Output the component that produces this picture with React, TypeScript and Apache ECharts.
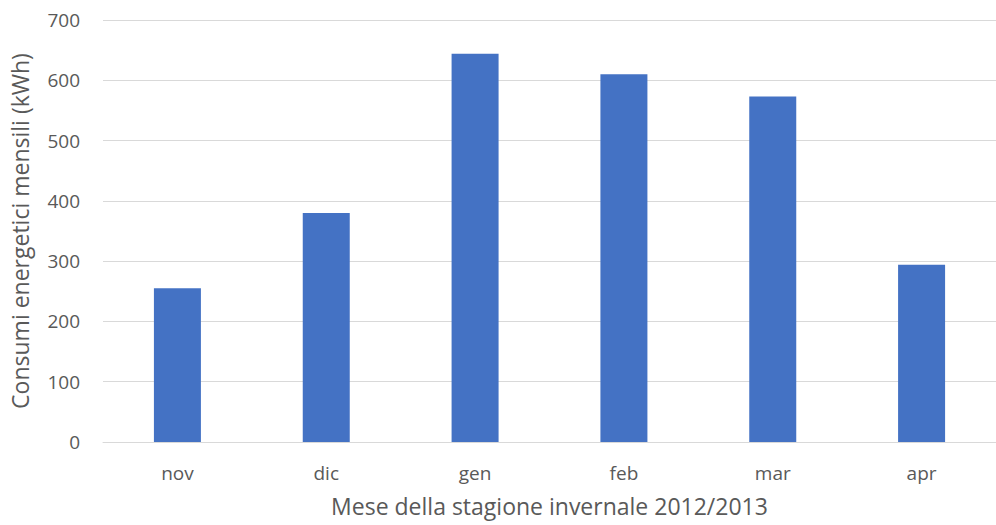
import React, { useEffect, useRef } from "react";
import * as echarts from "echarts";

const months = ["nov", "dic", "gen", "feb", "mar", "apr"];
const consumption = [255, 380, 644, 610, 573, 294];
const yTicks = { min: 0, max: 700, interval: 100 };

export default function App() {
  const ref = useRef<HTMLDivElement>(null);

  useEffect(() => {
    if (!ref.current) return;
    const chart = echarts.init(ref.current, undefined, { renderer: "svg" });
    const font = "'Open Sans', 'Noto Sans', sans-serif";
    chart.setOption({
      animation: false,
      backgroundColor: "#ffffff",
      grid: { left: 103, top: 20, width: 902, height: 422, containLabel: false },
      xAxis: {
        type: "category",
        data: months,
        name: "Mese della stagione invernale 2012/2013",
        nameLocation: "middle",
        nameGap: 52,
        nameTextStyle: { fontFamily: font, fontSize: 23, color: "#595959" },
        axisLine: { show: true, lineStyle: { color: "#d9d9d9", width: 1 } },
        axisTick: { show: false },
        axisLabel: { fontFamily: font, fontSize: 19, color: "#595959", margin: 21 },
      },
      yAxis: {
        type: "value",
        min: yTicks.min,
        max: yTicks.max,
        interval: yTicks.interval,
        name: "Consumi energetici mensili (kWh)",
        nameLocation: "middle",
        nameGap: 72,
        nameTextStyle: { fontFamily: font, fontSize: 23, color: "#595959" },
        axisLine: { show: false },
        axisTick: { show: false },
        axisLabel: { fontFamily: font, fontSize: 19, color: "#595959", margin: 23 },
        splitLine: { lineStyle: { color: "#d9d9d9", width: 1 } },
      },
      series: [
        {
          type: "bar",
          data: consumption,
          barWidth: 47,
          itemStyle: { color: "#4472c4" },
        },
      ],
    });
    return () => chart.dispose();
  }, []);

  return <div ref={ref} style={{ width: 996, height: 525, position: "absolute", left: 0, top: 0 }} />;
}
